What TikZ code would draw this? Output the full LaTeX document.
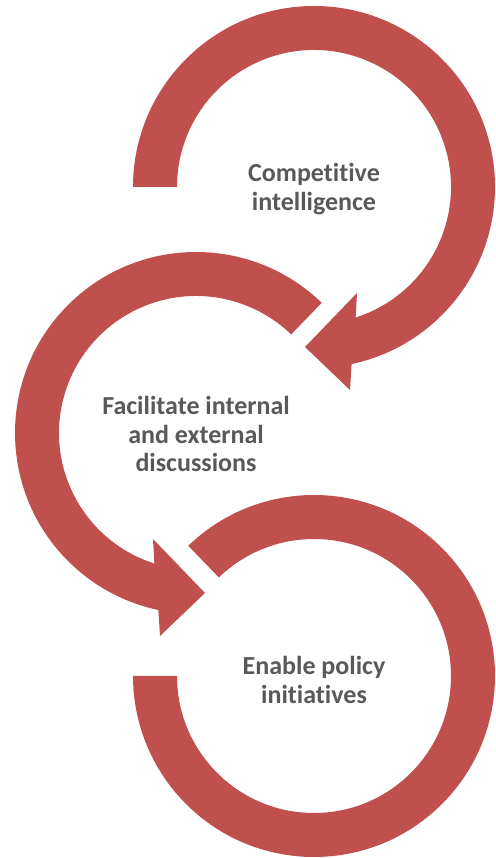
\documentclass[tikz,border=0pt]{standalone}
\usepackage{fontspec}
\setmainfont{Carlito}[Ligatures=NoCommon]
\definecolor{arrowred}{HTML}{C0504D}
\definecolor{textgray}{HTML}{595959}
\tikzset{
  band/.style={fill=arrowred},
  steptext/.style={align=center, text=textgray, font=\bfseries\fontsize{19.5}{21.4}\selectfont}
}
\begin{document}
\begin{tikzpicture}[x=0.75pt,y=0.75pt]
\useasboundingbox (0,0) rectangle (496,858);
\begin{scope}[shift={(314,671)}]
\fill[band] (180:181) arc[start angle=180, end angle=-78, radius=181] -- (36,-203) -- (-9,-160) -- (43,-106) -- (-72.3:137) arc[start angle=-72.3, end angle=180, radius=137] -- cycle;
\node[steptext] (intel) at (0,-2) {Competitive\\intelligence};
\end{scope}
\begin{scope}[shift={(196,425)}]
\fill[band] (46:181) arc[start angle=46, end angle=258, radius=181] -- (-36,-203) -- (9,-160) -- (-43,-106) -- (252.3:137) arc[start angle=252.3, end angle=46, radius=137] -- cycle;
\node[steptext] (discuss) at (0,-1) {Facilitate internal\\and external\\discussions};
\end{scope}
\begin{scope}[shift={(314,182)}]
\fill[band] (134:181) arc[start angle=134, end angle=-180, radius=181] -- (180:137) arc[start angle=-180, end angle=134, radius=137] -- cycle;
\node[steptext] (policy) at (0,-4) {Enable policy\\initiatives};
\end{scope}
\end{tikzpicture}
\end{document}
